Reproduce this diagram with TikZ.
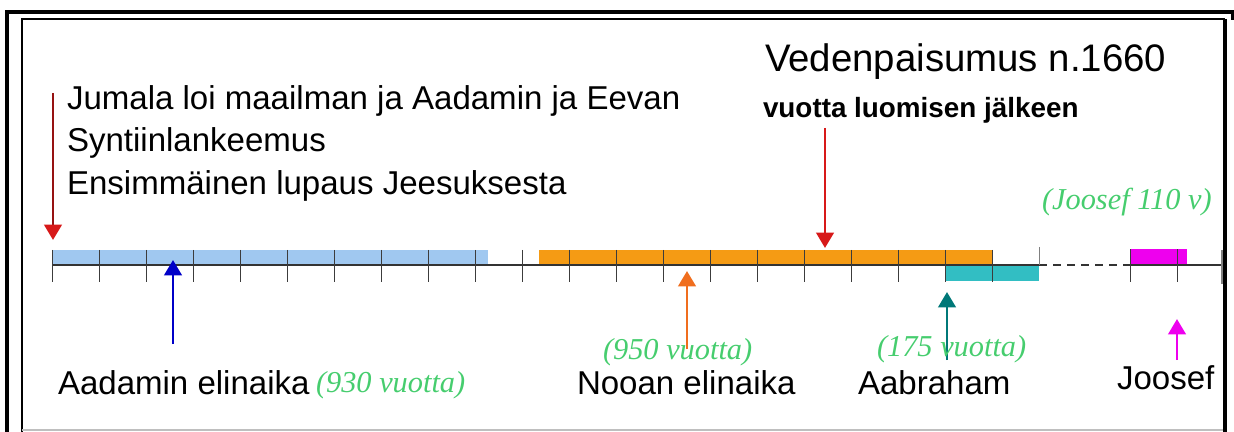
\documentclass[tikz,border=0pt]{standalone}
\usepackage{fontspec}
\setmainfont{Liberation Sans}
\newfontfamily\timesit{Liberation Serif}
\usepackage{xcolor}
\usetikzlibrary{arrows.meta,positioning}
\definecolor{adamblue}{RGB}{160,200,240}
\definecolor{noahorange}{RGB}{245,155,20}
\definecolor{abrteal}{RGB}{50,190,195}
\definecolor{josmagenta}{RGB}{238,0,238}
\definecolor{yrsgreen}{RGB}{70,205,110}
\definecolor{floodred}{RGB}{215,25,25}
\definecolor{arrblue}{RGB}{0,0,200}
\definecolor{arrorange}{RGB}{240,110,30}
\definecolor{arrteal}{RGB}{0,120,120}
\definecolor{tickgray}{RGB}{60,60,60}

\begin{document}
\begin{tikzpicture}[every node/.style={outer sep=0pt,inner sep=0pt},
  lbl/.style={anchor=base west,font=\fontsize{23.5}{28}\selectfont},
  yrs/.style={anchor=base west,text=yrsgreen,font=\timesit\itshape\fontsize{21.6}{26}\selectfont},
  tickline/.style={draw=tickgray,line width=0.7pt},
  axisline/.style={draw=black!80,line width=1pt},
  pointer/.style={-{Triangle[length=11pt,width=12.5pt]},line width=2pt}]
\useasboundingbox (0cm,0cm) rectangle (30.85cm,-10.8cm);
% frame
\draw [line width=2.8pt] (0.175cm,-10.8cm) -- (0.175cm,-0.3cm) -- (30.825cm,-0.3cm) -- (30.825cm,-0.5cm);
\draw [line width=1.2pt] (30.625cm,-0.475cm) -- (0.55cm,-0.475cm) -- (0.55cm,-10.8cm);
\draw [line width=0.8pt,black!25] (0.55cm,-10.75cm) -- (30.625cm,-10.75cm);
\draw [line width=2.8pt] (30.625cm,-0.475cm) -- (30.625cm,-10.8cm);

% life spans
\fill [adamblue] (1.3cm,-6.25cm) rectangle (12.2cm,-6.625cm);
\fill [noahorange] (13.475cm,-6.25cm) rectangle (24.8cm,-6.625cm);
\fill [abrteal] (23.65cm,-6.625cm) rectangle (25.975cm,-7.025cm);
\fill [josmagenta] (28.25cm,-6.225cm) rectangle (29.675cm,-6.625cm);

% time line
\draw [axisline] (1.3cm,-6.625cm) -- (25.975cm,-6.625cm);
\draw [axisline,dash pattern=on 5.5pt off 4.5pt] (25.975cm,-6.625cm) -- (28.25cm,-6.625cm);
\draw [axisline] (28.25cm,-6.625cm) -- (30.55cm,-6.625cm);
\foreach \k in {0,...,20}
  \draw [tickline] ({1.3cm+1.175cm*\k},-6.25cm) -- ++(0cm,-0.8cm);
\draw [tickline,draw=gray] (25.975cm,-6.175cm) -- (25.975cm,-6.625cm);
\draw [tickline] (28.25cm,-6.225cm) -- (28.25cm,-7.05cm);
\draw [tickline] (29.425cm,-6.225cm) -- (29.425cm,-7.05cm);
\draw [tickline,draw=gray,line width=1.8pt] (30.55cm,-6.25cm) -- (30.55cm,-7.1cm);

% arrows
\coordinate (creation) at (1.325cm,-2.325cm);
\coordinate (creationtip) at (1.325cm,-6.0cm);
\coordinate (flood) at (20.625cm,-3.2cm);
\coordinate (floodtip) at (20.625cm,-6.2cm);
\coordinate (adamfoot) at (4.325cm,-8.6cm);
\coordinate (adamtip) at (4.325cm,-6.5cm);
\coordinate (noahfoot) at (17.175cm,-8.725cm);
\coordinate (noahtip) at (17.175cm,-6.775cm);
\coordinate (abrfoot) at (23.675cm,-9.0cm);
\coordinate (abrtip) at (23.675cm,-7.3cm);
\coordinate (josfoot) at (29.425cm,-9.0cm);
\coordinate (jostip) at (29.425cm,-7.975cm);
\draw [pointer,floodred!70!black,-{Triangle[length=11pt,width=12.5pt,color=floodred]}] (creation) -- (creationtip);
\draw [pointer,floodred] (flood) -- (floodtip);
\draw [pointer,arrblue] (adamfoot) -- (adamtip);
\draw [pointer,arrorange] (noahfoot) -- (noahtip);
\draw [pointer,arrteal] (abrfoot) -- (abrtip);
\draw [pointer,josmagenta] (josfoot) -- (jostip);

% texts
\node (jumala) [lbl] at (1.675cm,-2.75cm) {Jumala loi maailman ja Aadamin ja Eevan};
\node (synti) [lbl] at (1.675cm,-3.8cm) {Syntiinlankeemus};
\node (lupaus) [lbl] at (1.675cm,-4.875cm) {Ensimmäinen lupaus Jeesuksesta};
\node (vedenp) [lbl,font=\fontsize{27.3}{32}\selectfont] at (19.125cm,-1.8cm) {Vedenpaisumus n.1660};
\node (vuotta) [lbl,font=\bfseries\fontsize{19.8}{24}\selectfont] at (19.075cm,-2.95cm) {vuotta luomisen jälkeen};
\node (adam) [lbl] at (1.45cm,-9.85cm) {Aadamin elinaika};
\node (adamyrs) [yrs] at (7.9cm,-9.8cm) {(930 vuotta)};
\node (noahyrs) [yrs] at (15.075cm,-8.975cm) {(950 vuotta)};
\node (noah) [lbl] at (14.425cm,-9.85cm) {Nooan elinaika};
\node (abryrs) [yrs] at (21.925cm,-8.9cm) {(175 vuotta)};
\node (abraham) [lbl] at (21.45cm,-9.85cm) {Aabraham};
\node (joosef) [lbl] at (27.925cm,-9.725cm) {Joosef};
\node (josyrs) [yrs] at (26.05cm,-5.25cm) {(Joosef 110 v)};
\end{tikzpicture}
\end{document}
